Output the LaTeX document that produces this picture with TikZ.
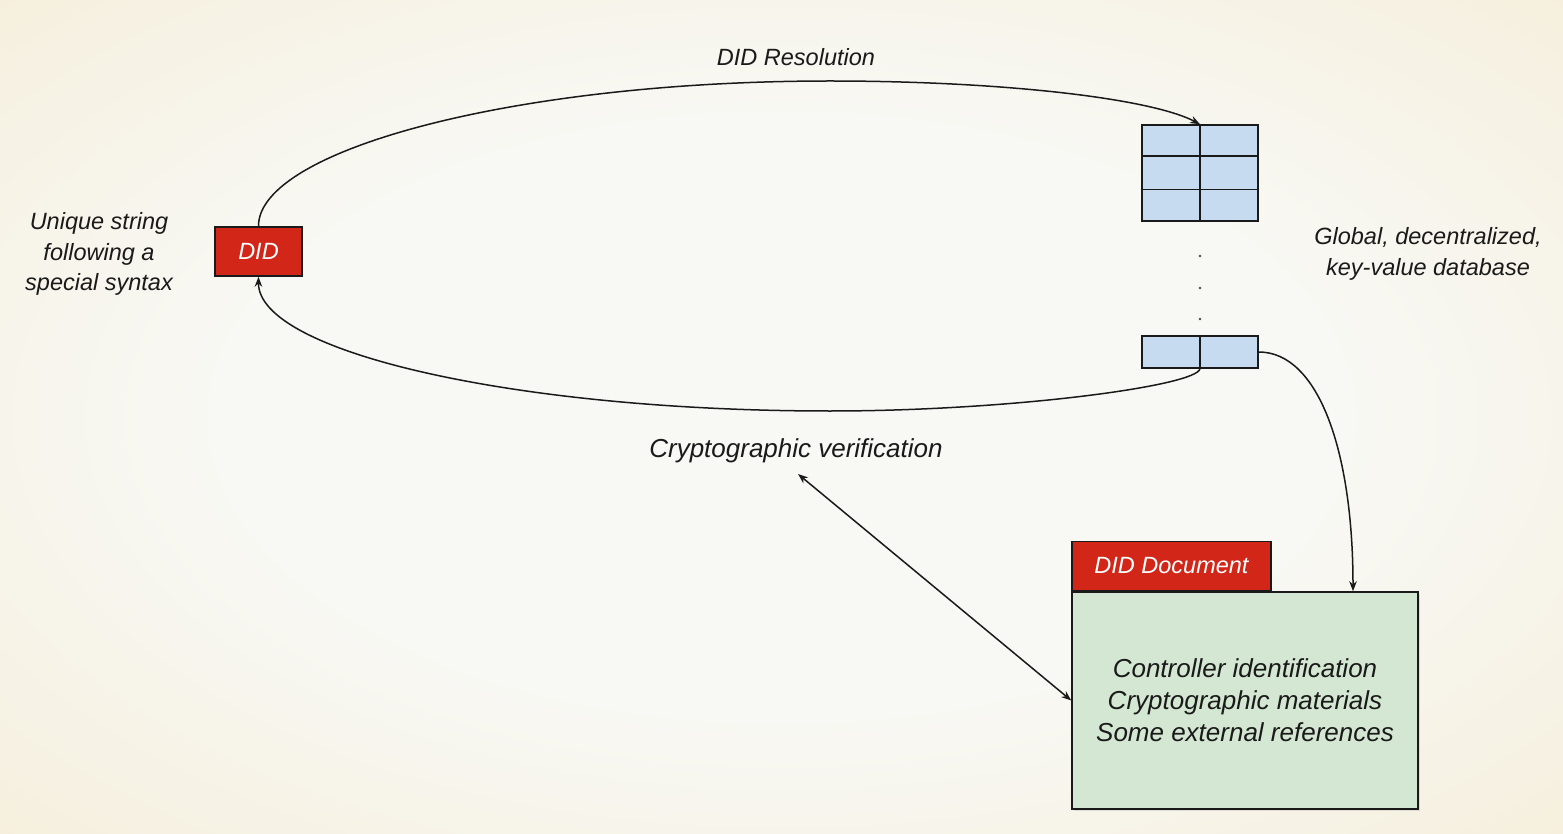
\documentclass[tikz,border=0pt]{standalone}
\usepackage{fontspec}
\setmainfont{Liberation Sans}
\usetikzlibrary{arrows.meta,shadows}
\definecolor{didred}{HTML}{D22618}
\definecolor{tblue}{HTML}{C6DAF0}
\definecolor{dgreen}{HTML}{D4E7D2}
\definecolor{bgedge}{HTML}{F4EAD0}
\definecolor{bgmid}{HTML}{F8F8F4}
\definecolor{ink}{HTML}{1A1A1A}
\pgfdeclareradialshading{bgshade}{\pgfpoint{0bp}{0bp}}{color(0bp)=(bgmid); color(18bp)=(bgmid); color(46bp)=(bgedge); color(75bp)=(bgedge)}
\begin{document}
\begin{tikzpicture}[x=1pt,y=-1pt,
  conn/.style={draw=ink, line width=1.5pt},
  tip/.style={-{Stealth[length=10pt,width=7.5pt]}},
  redbox/.style={draw=ink, line width=1.5pt, fill=didred, text=white, inner sep=0pt,
    font=\fontsize{23.5}{28}\selectfont\itshape},
  tbl/.style={draw=ink, line width=1.5pt, fill=tblue, inner sep=0pt},
  greenbox/.style={draw=ink, line width=1.5pt, fill=dgreen, inner sep=0pt, align=center,
    font=\fontsize{26}{32}\selectfont\itshape, text=ink,
    drop shadow={opacity=0.2, shadow xshift=2pt, shadow yshift=-2pt}},
  lbl/.style={text=ink, align=center, inner sep=0pt, font=\fontsize{23.5}{30.5}\selectfont\itshape},
  biglbl/.style={text=ink, align=center, inner sep=0pt, font=\fontsize{26}{32}\selectfont\itshape}
]
\useasboundingbox (0,0) rectangle (1563,834);
\shade[shading=bgshade] (0,0) rectangle (1563,834);

% DID
\node[redbox, minimum width=87pt, minimum height=49pt] (did) at (258.5,251.5) {DID};

% key-value table
\node[tbl, minimum width=116pt, minimum height=96pt] (tab) at (1200,173) {};
\draw[conn] (tab.north) -- (tab.south);
\draw[conn] ([yshift=-32pt]tab.north west) -- ([yshift=-32pt]tab.north east);
\draw[conn] ([yshift=32pt]tab.south west) -- ([yshift=32pt]tab.south east);
\foreach \yy in {256,288,319} \fill[ink!80] (1200,\yy) circle (1.3pt);
\node[tbl, minimum width=116pt, minimum height=32pt] (row) at (1200,352) {};
\draw[conn] (row.north) -- (row.south);

% DID document
\node[greenbox, minimum width=346pt, minimum height=217pt] (doc) at (1245,700.5)
  {Controller identification\\Cryptographic materials\\Some external references};
\node[redbox, minimum width=199pt, minimum height=49pt, anchor=south west] (doctab) at (doc.north west) {DID Document};

% labels
\node[lbl] (res) at (796,57) {DID Resolution};
\node[biglbl] (cv) at (796,451) {Cryptographic verification};
\node[lbl] (uniq) at (99,254) {Unique string\\following a\\special syntax};
\node[lbl] (glob) at (1428,254) {Global, decentralized,\\key-value database};

% connectors
\coordinate (topapex) at (830,81);
\coordinate (botapex) at (830,411);
\draw[conn, tip] (did.north) .. controls (258,150) and (515,81) .. (topapex)
  .. controls (1000,81) and (1150,98) .. (tab.north);
\draw[conn, tip] (row.south) .. controls (1197,386) and (1010,411) .. (botapex)
  .. controls (515,411) and (258,352) .. (did.south);
\draw[conn, tip] (row.east) .. controls (1318,352) and (1353,450) .. ([xshift=108pt]doc.north);
\coordinate (cvtip) at (798,474);
\draw[conn, {Stealth[length=10pt,width=7.5pt]}-{Stealth[length=10pt,width=7.5pt]}] (cvtip) -- (doc.west);
\end{tikzpicture}
\end{document}
